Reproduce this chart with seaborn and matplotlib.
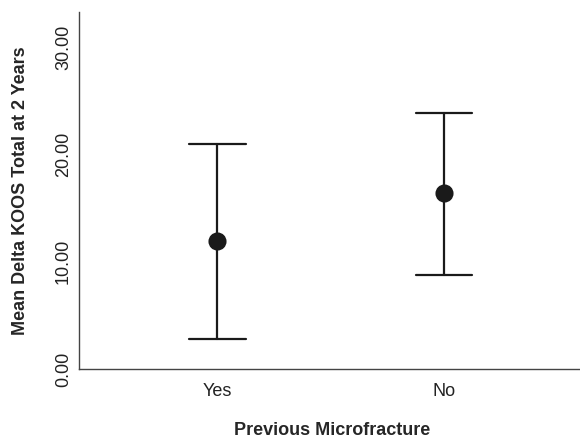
import matplotlib
matplotlib.use("Agg")
import matplotlib.pyplot as plt
import seaborn as sns
import pandas as pd

categories = ["Yes", "No"]
means = [11.9, 16.4]
lower = [2.8, 8.8]
upper = [21.0, 23.9]
yticks = [0, 10, 20, 30]
ytick_labels = ["0.00", "10.00", "20.00", "30.00"]

rows = []
for c, lo, m, hi in zip(categories, lower, means, upper):
    for v in (lo, m, hi):
        rows.append({"group": c, "value": v})
df = pd.DataFrame(rows)

sns.set_style("white")
plt.rcParams["font.family"] = ["Liberation Sans", "DejaVu Sans"]

fig = plt.figure(figsize=(5.8, 4.4), dpi=100)
ax = fig.add_axes([0.136, 0.161, 0.864, 0.812])

sns.pointplot(data=df, x="group", y="value", order=categories,
              estimator="median", errorbar=("pi", 100), capsize=0.25,
              color="#1a1a1a", linestyle="none", markersize=11,
              err_kws={"linewidth": 1.6}, ax=ax)

ax.set_xlim(-0.61, 1.6)
ax.set_ylim(0, 33.3)
ax.set_yticks(yticks)
ax.set_yticklabels(ytick_labels, rotation=90, va="center", fontsize=13)
ax.tick_params(axis="both", length=0, pad=5, colors="#222222")
ax.tick_params(axis="x", labelsize=13, pad=10)
ax.set_xlabel("Previous Microfracture", fontsize=13, fontweight="bold")
ax.xaxis.set_label_coords(0.506, -0.148)
ax.set_ylabel("Mean Delta KOOS Total at 2 Years", fontsize=13, fontweight="bold")
ax.yaxis.set_label_coords(-0.100, 0.5)
for s in ["top", "right"]:
    ax.spines[s].set_visible(False)
for s in ["left", "bottom"]:
    ax.spines[s].set_color("#444444")
    ax.spines[s].set_linewidth(1.0)

fig.savefig("out.png", dpi=100)
